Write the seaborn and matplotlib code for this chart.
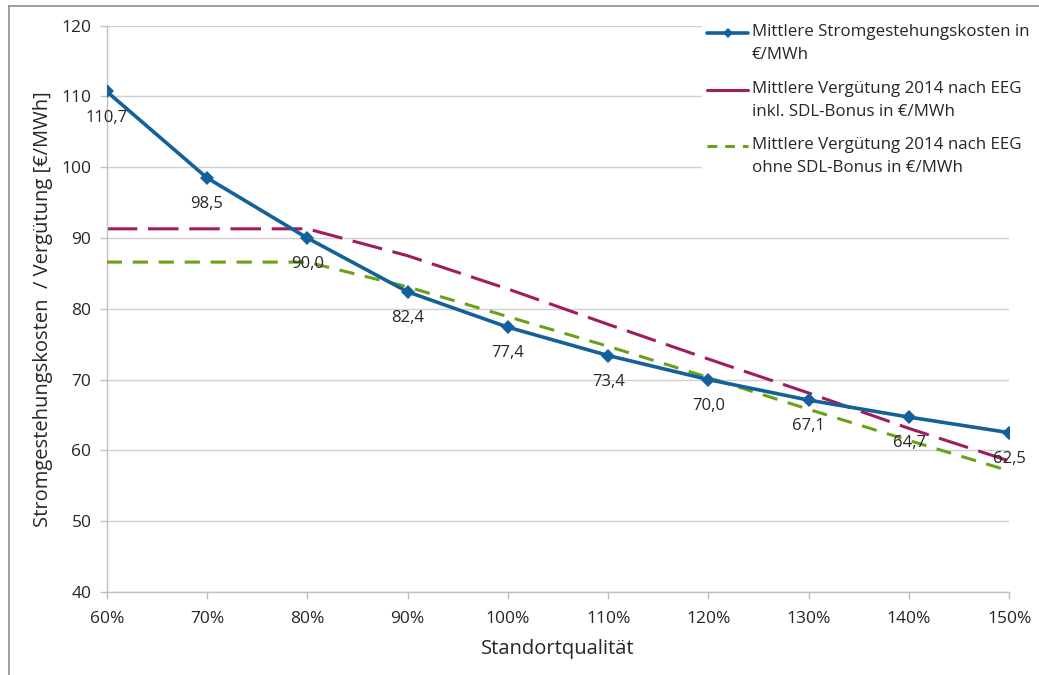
import matplotlib
matplotlib.use("Agg")
import matplotlib.pyplot as plt
import matplotlib.lines as mlines
import matplotlib.patches as mpatches
import seaborn as sns
import pandas as pd

# Standortqualität in percent
standort = [60, 70, 80, 90, 100, 110, 120, 130, 140, 150]
tick_labels = ["60%", "70%", "80%", "90%", "100%", "110%", "120%", "130%", "140%", "150%"]

# Mittlere Stromgestehungskosten in €/MWh
kosten = [110.7, 98.5, 90.0, 82.4, 77.4, 73.4, 70.0, 67.1, 64.7, 62.5]
# Mittlere Vergütung 2014 nach EEG inkl. SDL-Bonus
verg_inkl = [91.3, 91.3, 91.3, 87.5, 82.8, 77.8, 72.9, 68.1, 63.1, 58.5]
# Mittlere Vergütung 2014 nach EEG ohne SDL-Bonus
verg_ohne = [86.6, 86.6, 86.6, 83.1, 78.9, 74.7, 70.3, 65.8, 61.4, 57.1]

legend_labels = [
    ("Mittlere Stromgestehungskosten in", "€/MWh"),
    ("Mittlere Vergütung 2014 nach EEG", "inkl. SDL-Bonus in €/MWh"),
    ("Mittlere Vergütung 2014 nach EEG", "ohne SDL-Bonus in €/MWh"),
]

c_blue = "#14609A"
c_red = "#A01C5E"
c_green = "#6BA019"
c_text = "#262626"

sns.set_theme(style="white")
plt.rcParams["font.family"] = ["Open Sans", "DejaVu Sans"]

df = pd.DataFrame({"x": standort, "kosten": kosten,
                   "inkl": verg_inkl, "ohne": verg_ohne})

W, H = 1039, 675
fig = plt.figure(figsize=(W / 100, H / 100), dpi=100)
ax = fig.add_axes([0.1027, 0.123, 0.8688, 0.839])

sns.lineplot(data=df, x="x", y="inkl", ax=ax, color=c_red, linewidth=2.2,
             zorder=2)
ax.lines[-1].set_dashes([10, 3.5])
sns.lineplot(data=df, x="x", y="ohne", ax=ax, color=c_green, linewidth=2.2,
             zorder=3)
ax.lines[-1].set_dashes([5.0, 3.5])
sns.lineplot(data=df, x="x", y="kosten", ax=ax, color=c_blue, linewidth=2.6,
             marker="D", markersize=7.5, markeredgewidth=0, zorder=4)

# value labels below the cost points
for xv, yv in zip(standort, kosten):
    ax.annotate(f"{yv:.1f}".replace(".", ","), (xv, yv), xytext=(0, -13),
                textcoords="offset points", ha="center", va="top",
                fontsize=12, color=c_text, zorder=5)

ax.set_xlim(60, 150)
ax.set_ylim(40, 120)
ax.set_xticks(standort)
ax.set_xticklabels(tick_labels)
ax.set_yticks(range(40, 121, 10))
ax.yaxis.grid(True, color="#D0D0D0", linewidth=1)
ax.xaxis.grid(False)
for s in ["top", "right"]:
    ax.spines[s].set_visible(False)
for s in ["left", "bottom"]:
    ax.spines[s].set_color("#BFBFBF")
    ax.spines[s].set_linewidth(1)
ax.tick_params(axis="both", which="major", labelsize=12.5, colors="#BFBFBF",
               labelcolor=c_text, length=5, width=1, direction="out",
               left=True, bottom=True)
ax.tick_params(axis="y", pad=6)
ax.tick_params(axis="x", pad=9)
ax.set_xlabel("Standortqualität", fontsize=14.5, color=c_text, labelpad=8)
ax.set_ylabel("Stromgestehungskosten  / Vergütung [€/MWh]", fontsize=14.5,
              color=c_text, labelpad=6)


# legend block, handle beside the first line of each two-line entry
def fx(px):
    return px / W


def fy(py):
    return 1 - py / H


fig.add_artist(mpatches.Rectangle((fx(702), fy(182)), fx(W - 702), 167 / H,
                                  transform=fig.transFigure, facecolor="white",
                                  edgecolor="none", zorder=8))
handle_styles = [
    dict(color=c_blue, linewidth=2.6, marker="D", markersize=5,
         markeredgewidth=0, markevery=[1]),
    dict(color=c_red, linewidth=2.2),
    dict(color=c_green, linewidth=2.2, dashes=[3.2, 2.6]),
]
entry_y = [32, 89, 145]
for (l1, l2), style, y0 in zip(legend_labels, handle_styles, entry_y):
    fig.add_artist(mlines.Line2D([fx(707), fx(727.5), fx(748)],
                                 [fy(y0 + 1)] * 3, transform=fig.transFigure,
                                 zorder=9, **style))
    fig.text(fx(752), fy(y0), l1, fontsize=12.2, color=c_text,
             va="center", ha="left", zorder=9)
    fig.text(fx(752), fy(y0 + 23), l2, fontsize=12.2, color=c_text,
             va="center", ha="left", zorder=9)

# chart-area border along top and left
fig.add_artist(mlines.Line2D([fx(8.5), 1.0], [fy(6), fy(6)],
                             transform=fig.transFigure, color="#8C8C8C",
                             linewidth=1.2))
fig.add_artist(mlines.Line2D([fx(8.5), fx(8.5)], [0.0, fy(6)],
                             transform=fig.transFigure, color="#8C8C8C",
                             linewidth=1.2))

fig.savefig("out.png", dpi=100)
